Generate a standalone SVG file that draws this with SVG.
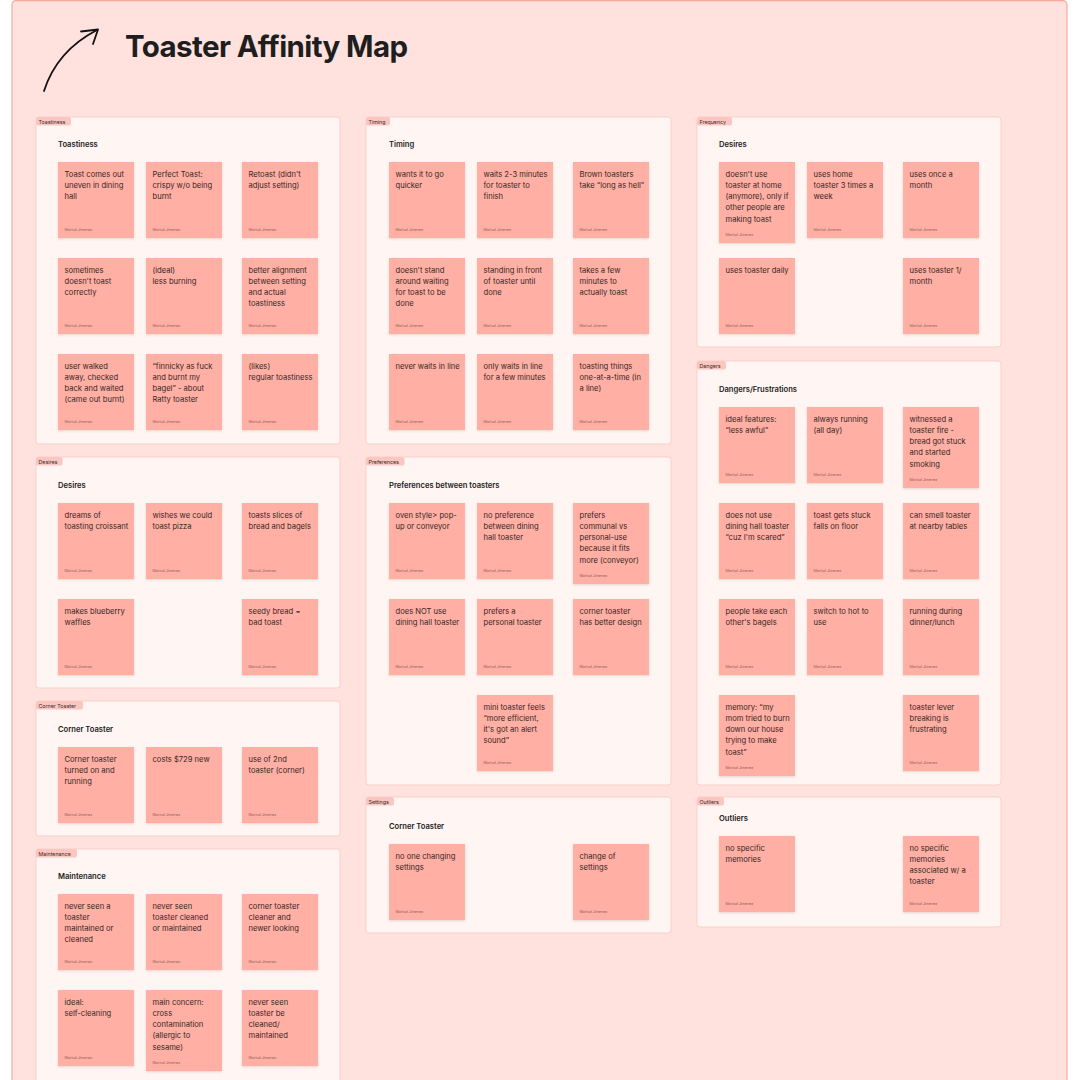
<svg xmlns="http://www.w3.org/2000/svg" width="1080" height="1080" viewBox="0 0 1080 1080">
<defs>
<filter id="sh" x="-10%" y="-10%" width="120%" height="125%"><feDropShadow dx="0" dy="1" stdDeviation="0.8" flood-color="#7a3a30" flood-opacity="0.18"/></filter>
<style>
.frame{fill:#FFE2DE;stroke:#F8A999;stroke-width:1.2}
.sec{fill:#FFF5F3;stroke:#FBCFC8;stroke-width:1}
.tag{fill:#FCC6C0}
.tagt{font-family:Inter,"Noto Sans",sans-serif;font-size:5.3px;fill:#3a2a28}
.st{font-family:Inter,"Noto Sans",sans-serif;font-size:7.6px;font-weight:600;fill:#222}
.s{fill:#FFAFA3;filter:url(#sh)}
.t{font-family:Inter,"Noto Sans",sans-serif;font-size:7.6px;fill:#352826}
.a{font-family:Inter,"Noto Sans",sans-serif;font-size:3.6px;fill:#8c5f58}
.title{font-family:Inter,"Noto Sans",sans-serif;font-size:29.5px;font-weight:700;fill:#1e1e1e;letter-spacing:-0.6px}
.arr{fill:none;stroke:#111;stroke-width:1.8;stroke-linecap:round;stroke-linejoin:round}
</style>
</defs>
<rect width="1080" height="1080" fill="#ffffff"/>
<rect class="frame" x="12" y="0.6" width="1055" height="1100" rx="4"/>
<g id="header">
<text class="title" x="125" y="57">Toaster Affinity Map</text>
</g>
<g id="connectors">
<path class="arr" d="M44,91 C52,66 70,44 97,30"/>
<path class="arr" d="M81,31.5 L98,29.5 L93,44"/>
</g>

<!-- Column 1 -->
<g id="sec-toastiness">
<rect class="sec" x="36" y="117" width="304" height="327" rx="3"/>
<rect class="tag" x="36" y="117" width="35" height="8.5" rx="2"/>
<text class="tagt" x="38.5" y="123.5">Toastiness</text>
<text class="st" x="58" y="147">Toastiness</text>
<g id="n-t1" transform="translate(58,162)"><rect class="s" width="76" height="76"/><text class="t" x="6.5" y="14.5"><tspan x="6.5">Toast comes out</tspan><tspan x="6.5" dy="11.3">uneven in dining</tspan><tspan x="6.5" dy="11.3">hall</tspan></text><text class="a" x="6.5" y="68.5">Marisol Jimenez</text></g>
<g id="n-t2" transform="translate(146,162)"><rect class="s" width="76" height="76"/><text class="t" x="6.5" y="14.5"><tspan x="6.5">Perfect Toast:</tspan><tspan x="6.5" dy="11.3">crispy w/o being</tspan><tspan x="6.5" dy="11.3">burnt</tspan></text><text class="a" x="6.5" y="68.5">Marisol Jimenez</text></g>
<g id="n-t3" transform="translate(242,162)"><rect class="s" width="76" height="76"/><text class="t" x="6.5" y="14.5"><tspan x="6.5">Retoast (didn't</tspan><tspan x="6.5" dy="11.3">adjust setting)</tspan></text><text class="a" x="6.5" y="68.5">Marisol Jimenez</text></g>
<g id="n-t4" transform="translate(58,258)"><rect class="s" width="76" height="76"/><text class="t" x="6.5" y="14.5"><tspan x="6.5">sometimes</tspan><tspan x="6.5" dy="11.3">doesn't toast</tspan><tspan x="6.5" dy="11.3">correctly</tspan></text><text class="a" x="6.5" y="68.5">Marisol Jimenez</text></g>
<g id="n-t5" transform="translate(146,258)"><rect class="s" width="76" height="76"/><text class="t" x="6.5" y="14.5"><tspan x="6.5">(ideal)</tspan><tspan x="6.5" dy="11.3">less burning</tspan></text><text class="a" x="6.5" y="68.5">Marisol Jimenez</text></g>
<g id="n-t6" transform="translate(242,258)"><rect class="s" width="76" height="76"/><text class="t" x="6.5" y="14.5"><tspan x="6.5">better alignment</tspan><tspan x="6.5" dy="11.3">between setting</tspan><tspan x="6.5" dy="11.3">and actual</tspan><tspan x="6.5" dy="11.3">toastiness</tspan></text><text class="a" x="6.5" y="68.5">Marisol Jimenez</text></g>
<g id="n-t7" transform="translate(58,354)"><rect class="s" width="76" height="76"/><text class="t" x="6.5" y="14.5"><tspan x="6.5">user walked</tspan><tspan x="6.5" dy="11.3">away, checked</tspan><tspan x="6.5" dy="11.3">back and waited</tspan><tspan x="6.5" dy="11.3">(came out burnt)</tspan></text><text class="a" x="6.5" y="68.5">Marisol Jimenez</text></g>
<g id="n-t8" transform="translate(146,354)"><rect class="s" width="76" height="76"/><text class="t" x="6.5" y="14.5"><tspan x="6.5">“finnicky as fuck</tspan><tspan x="6.5" dy="11.3">and burnt my</tspan><tspan x="6.5" dy="11.3">bagel” - about</tspan><tspan x="6.5" dy="11.3">Ratty toaster</tspan></text><text class="a" x="6.5" y="68.5">Marisol Jimenez</text></g>
<g id="n-t9" transform="translate(242,354)"><rect class="s" width="76" height="76"/><text class="t" x="6.5" y="14.5"><tspan x="6.5">(likes)</tspan><tspan x="6.5" dy="11.3">regular toastiness</tspan></text><text class="a" x="6.5" y="68.5">Marisol Jimenez</text></g>
</g>

<g id="sec-desires">
<rect class="sec" x="36" y="457" width="304" height="231" rx="3"/>
<rect class="tag" x="36" y="457" width="26.5" height="8.5" rx="2"/>
<text class="tagt" x="38.5" y="463.5">Desires</text>
<text class="st" x="58" y="487.5">Desires</text>
<g id="n-d1" transform="translate(58,503)"><rect class="s" width="76" height="76"/><text class="t" x="6.5" y="14.5"><tspan x="6.5">dreams of</tspan><tspan x="6.5" dy="11.3">toasting croissant</tspan></text><text class="a" x="6.5" y="68.5">Marisol Jimenez</text></g>
<g id="n-d2" transform="translate(146,503)"><rect class="s" width="76" height="76"/><text class="t" x="6.5" y="14.5"><tspan x="6.5">wishes we could</tspan><tspan x="6.5" dy="11.3">toast pizza</tspan></text><text class="a" x="6.5" y="68.5">Marisol Jimenez</text></g>
<g id="n-d3" transform="translate(242,503)"><rect class="s" width="76" height="76"/><text class="t" x="6.5" y="14.5"><tspan x="6.5">toasts slices of</tspan><tspan x="6.5" dy="11.3">bread and bagels</tspan></text><text class="a" x="6.5" y="68.5">Marisol Jimenez</text></g>
<g id="n-d4" transform="translate(58,599)"><rect class="s" width="76" height="76"/><text class="t" x="6.5" y="14.5"><tspan x="6.5">makes blueberry</tspan><tspan x="6.5" dy="11.3">waffles</tspan></text><text class="a" x="6.5" y="68.5">Marisol Jimenez</text></g>
<g id="n-d5" transform="translate(242,599)"><rect class="s" width="76" height="76"/><text class="t" x="6.5" y="14.5"><tspan x="6.5">seedy bread =</tspan><tspan x="6.5" dy="11.3">bad toast</tspan></text><text class="a" x="6.5" y="68.5">Marisol Jimenez</text></g>
</g>

<g id="sec-corner">
<rect class="sec" x="36" y="701" width="304" height="135" rx="3"/>
<rect class="tag" x="36" y="701" width="47" height="8.5" rx="2"/>
<text class="tagt" x="38.5" y="707.5">Corner Toaster</text>
<text class="st" x="58" y="731.5">Corner Toaster</text>
<g id="n-c1" transform="translate(58,747)"><rect class="s" width="76" height="76"/><text class="t" x="6.5" y="14.5"><tspan x="6.5">Corner toaster</tspan><tspan x="6.5" dy="11.3">turned on and</tspan><tspan x="6.5" dy="11.3">running</tspan></text><text class="a" x="6.5" y="68.5">Marisol Jimenez</text></g>
<g id="n-c2" transform="translate(146,747)"><rect class="s" width="76" height="76"/><text class="t" x="6.5" y="14.5"><tspan x="6.5">costs $729 new</tspan></text><text class="a" x="6.5" y="68.5">Marisol Jimenez</text></g>
<g id="n-c3" transform="translate(242,747)"><rect class="s" width="76" height="76"/><text class="t" x="6.5" y="14.5"><tspan x="6.5">use of 2nd</tspan><tspan x="6.5" dy="11.3">toaster (corner)</tspan></text><text class="a" x="6.5" y="68.5">Marisol Jimenez</text></g>
</g>

<g id="sec-maintenance">
<rect class="sec" x="36" y="849" width="304" height="260" rx="3"/>
<rect class="tag" x="36" y="849" width="41" height="8.5" rx="2"/>
<text class="tagt" x="38.5" y="855.5">Maintenance</text>
<text class="st" x="58" y="878.5">Maintenance</text>
<g id="n-m1" transform="translate(58,894)"><rect class="s" width="76" height="76"/><text class="t" x="6.5" y="14.5"><tspan x="6.5">never seen a</tspan><tspan x="6.5" dy="11.3">toaster</tspan><tspan x="6.5" dy="11.3">maintained or</tspan><tspan x="6.5" dy="11.3">cleaned</tspan></text><text class="a" x="6.5" y="68.5">Marisol Jimenez</text></g>
<g id="n-m2" transform="translate(146,894)"><rect class="s" width="76" height="76"/><text class="t" x="6.5" y="14.5"><tspan x="6.5">never seen</tspan><tspan x="6.5" dy="11.3">toaster cleaned</tspan><tspan x="6.5" dy="11.3">or maintained</tspan></text><text class="a" x="6.5" y="68.5">Marisol Jimenez</text></g>
<g id="n-m3" transform="translate(242,894)"><rect class="s" width="76" height="76"/><text class="t" x="6.5" y="14.5"><tspan x="6.5">corner toaster</tspan><tspan x="6.5" dy="11.3">cleaner and</tspan><tspan x="6.5" dy="11.3">newer looking</tspan></text><text class="a" x="6.5" y="68.5">Marisol Jimenez</text></g>
<g id="n-m4" transform="translate(58,990)"><rect class="s" width="76" height="76"/><text class="t" x="6.5" y="14.5"><tspan x="6.5">ideal:</tspan><tspan x="6.5" dy="11.3">self-cleaning</tspan></text><text class="a" x="6.5" y="68.5">Marisol Jimenez</text></g>
<g id="n-m5" transform="translate(146,990)"><rect class="s" width="76" height="81"/><text class="t" x="6.5" y="14.5"><tspan x="6.5">main concern:</tspan><tspan x="6.5" dy="11.3">cross</tspan><tspan x="6.5" dy="11.3">contamination</tspan><tspan x="6.5" dy="11.3">(allergic to</tspan><tspan x="6.5" dy="11.3">sesame)</tspan></text><text class="a" x="6.5" y="73.5">Marisol Jimenez</text></g>
<g id="n-m6" transform="translate(242,990)"><rect class="s" width="76" height="76"/><text class="t" x="6.5" y="14.5"><tspan x="6.5">never seen</tspan><tspan x="6.5" dy="11.3">toaster be</tspan><tspan x="6.5" dy="11.3">cleaned/</tspan><tspan x="6.5" dy="11.3">maintained</tspan></text><text class="a" x="6.5" y="68.5">Marisol Jimenez</text></g>
</g>

<!-- Column 2 -->
<g id="sec-timing">
<rect class="sec" x="366" y="117" width="305" height="327" rx="3"/>
<rect class="tag" x="366" y="117" width="24" height="8.5" rx="2"/>
<text class="tagt" x="368.5" y="123.5">Timing</text>
<text class="st" x="389" y="147">Timing</text>
<g id="n-ti1" transform="translate(389,162)"><rect class="s" width="76" height="76"/><text class="t" x="6.5" y="14.5"><tspan x="6.5">wants it to go</tspan><tspan x="6.5" dy="11.3">quicker</tspan></text><text class="a" x="6.5" y="68.5">Marisol Jimenez</text></g>
<g id="n-ti2" transform="translate(477,162)"><rect class="s" width="76" height="76"/><text class="t" x="6.5" y="14.5"><tspan x="6.5">waits 2-3 minutes</tspan><tspan x="6.5" dy="11.3">for toaster to</tspan><tspan x="6.5" dy="11.3">finish</tspan></text><text class="a" x="6.5" y="68.5">Marisol Jimenez</text></g>
<g id="n-ti3" transform="translate(573,162)"><rect class="s" width="76" height="76"/><text class="t" x="6.5" y="14.5"><tspan x="6.5">Brown toasters</tspan><tspan x="6.5" dy="11.3">take “long as hell”</tspan></text><text class="a" x="6.5" y="68.5">Marisol Jimenez</text></g>
<g id="n-ti4" transform="translate(389,258)"><rect class="s" width="76" height="76"/><text class="t" x="6.5" y="14.5"><tspan x="6.5">doesn't stand</tspan><tspan x="6.5" dy="11.3">around waiting</tspan><tspan x="6.5" dy="11.3">for toast to be</tspan><tspan x="6.5" dy="11.3">done</tspan></text><text class="a" x="6.5" y="68.5">Marisol Jimenez</text></g>
<g id="n-ti5" transform="translate(477,258)"><rect class="s" width="76" height="76"/><text class="t" x="6.5" y="14.5"><tspan x="6.5">standing in front</tspan><tspan x="6.5" dy="11.3">of toaster until</tspan><tspan x="6.5" dy="11.3">done</tspan></text><text class="a" x="6.5" y="68.5">Marisol Jimenez</text></g>
<g id="n-ti6" transform="translate(573,258)"><rect class="s" width="76" height="76"/><text class="t" x="6.5" y="14.5"><tspan x="6.5">takes a few</tspan><tspan x="6.5" dy="11.3">minutes to</tspan><tspan x="6.5" dy="11.3">actually toast</tspan></text><text class="a" x="6.5" y="68.5">Marisol Jimenez</text></g>
<g id="n-ti7" transform="translate(389,354)"><rect class="s" width="76" height="76"/><text class="t" x="6.5" y="14.5"><tspan x="6.5">never waits in line</tspan></text><text class="a" x="6.5" y="68.5">Marisol Jimenez</text></g>
<g id="n-ti8" transform="translate(477,354)"><rect class="s" width="76" height="76"/><text class="t" x="6.5" y="14.5"><tspan x="6.5">only waits in line</tspan><tspan x="6.5" dy="11.3">for a few minutes</tspan></text><text class="a" x="6.5" y="68.5">Marisol Jimenez</text></g>
<g id="n-ti9" transform="translate(573,354)"><rect class="s" width="76" height="76"/><text class="t" x="6.5" y="14.5"><tspan x="6.5">toasting things</tspan><tspan x="6.5" dy="11.3">one-at-a-time (in</tspan><tspan x="6.5" dy="11.3">a line)</tspan></text><text class="a" x="6.5" y="68.5">Marisol Jimenez</text></g>
</g>

<g id="sec-preferences">
<rect class="sec" x="366" y="457" width="305" height="328" rx="3"/>
<rect class="tag" x="366" y="457" width="38.5" height="8.5" rx="2"/>
<text class="tagt" x="368.5" y="463.5">Preferences</text>
<text class="st" x="389" y="487.5">Preferences between toasters</text>
<g id="n-p1" transform="translate(389,503)"><rect class="s" width="76" height="76"/><text class="t" x="6.5" y="14.5"><tspan x="6.5">oven style&gt; pop-</tspan><tspan x="6.5" dy="11.3">up or conveyor</tspan></text><text class="a" x="6.5" y="68.5">Marisol Jimenez</text></g>
<g id="n-p2" transform="translate(477,503)"><rect class="s" width="76" height="76"/><text class="t" x="6.5" y="14.5"><tspan x="6.5">no preference</tspan><tspan x="6.5" dy="11.3">between dining</tspan><tspan x="6.5" dy="11.3">hall toaster</tspan></text><text class="a" x="6.5" y="68.5">Marisol Jimenez</text></g>
<g id="n-p3" transform="translate(573,503)"><rect class="s" width="76" height="81"/><text class="t" x="6.5" y="14.5"><tspan x="6.5">prefers</tspan><tspan x="6.5" dy="11.3">communal vs</tspan><tspan x="6.5" dy="11.3">personal-use</tspan><tspan x="6.5" dy="11.3">because it fits</tspan><tspan x="6.5" dy="11.3">more (conveyor)</tspan></text><text class="a" x="6.5" y="73.5">Marisol Jimenez</text></g>
<g id="n-p4" transform="translate(389,599)"><rect class="s" width="76" height="76"/><text class="t" x="6.5" y="14.5"><tspan x="6.5">does NOT use</tspan><tspan x="6.5" dy="11.3">dining hall toaster</tspan></text><text class="a" x="6.5" y="68.5">Marisol Jimenez</text></g>
<g id="n-p5" transform="translate(477,599)"><rect class="s" width="76" height="76"/><text class="t" x="6.5" y="14.5"><tspan x="6.5">prefers a</tspan><tspan x="6.5" dy="11.3">personal toaster</tspan></text><text class="a" x="6.5" y="68.5">Marisol Jimenez</text></g>
<g id="n-p6" transform="translate(573,599)"><rect class="s" width="76" height="76"/><text class="t" x="6.5" y="14.5"><tspan x="6.5">corner toaster</tspan><tspan x="6.5" dy="11.3">has better design</tspan></text><text class="a" x="6.5" y="68.5">Marisol Jimenez</text></g>
<g id="n-p7" transform="translate(477,695)"><rect class="s" width="76" height="76"/><text class="t" x="6.5" y="14.5"><tspan x="6.5">mini toaster feels</tspan><tspan x="6.5" dy="11.3">“more efficient,</tspan><tspan x="6.5" dy="11.3">it's got an alert</tspan><tspan x="6.5" dy="11.3">sound”</tspan></text><text class="a" x="6.5" y="68.5">Marisol Jimenez</text></g>
</g>

<g id="sec-settings">
<rect class="sec" x="366" y="797" width="305" height="136" rx="3"/>
<rect class="tag" x="366" y="797" width="28" height="8.5" rx="2"/>
<text class="tagt" x="368.5" y="803.5">Settings</text>
<text class="st" x="389" y="828.5">Corner Toaster</text>
<g id="n-se1" transform="translate(389,844)"><rect class="s" width="76" height="76"/><text class="t" x="6.5" y="14.5"><tspan x="6.5">no one changing</tspan><tspan x="6.5" dy="11.3">settings</tspan></text><text class="a" x="6.5" y="68.5">Marisol Jimenez</text></g>
<g id="n-se2" transform="translate(573,844)"><rect class="s" width="76" height="76"/><text class="t" x="6.5" y="14.5"><tspan x="6.5">change of</tspan><tspan x="6.5" dy="11.3">settings</tspan></text><text class="a" x="6.5" y="68.5">Marisol Jimenez</text></g>
</g>

<!-- Column 3 -->
<g id="sec-frequency">
<rect class="sec" x="697" y="117" width="304" height="230" rx="3"/>
<rect class="tag" x="697" y="117" width="35" height="8.5" rx="2"/>
<text class="tagt" x="699.5" y="123.5">Frequency</text>
<text class="st" x="719" y="147">Desires</text>
<g id="n-f1" transform="translate(719,162)"><rect class="s" width="76" height="81"/><text class="t" x="6.5" y="14.5"><tspan x="6.5">doesn't use</tspan><tspan x="6.5" dy="11.3">toaster at home</tspan><tspan x="6.5" dy="11.3">(anymore), only if</tspan><tspan x="6.5" dy="11.3">other people are</tspan><tspan x="6.5" dy="11.3">making toast</tspan></text><text class="a" x="6.5" y="73.5">Marisol Jimenez</text></g>
<g id="n-f2" transform="translate(807,162)"><rect class="s" width="76" height="76"/><text class="t" x="6.5" y="14.5"><tspan x="6.5">uses home</tspan><tspan x="6.5" dy="11.3">toaster 3 times a</tspan><tspan x="6.5" dy="11.3">week</tspan></text><text class="a" x="6.5" y="68.5">Marisol Jimenez</text></g>
<g id="n-f3" transform="translate(903,162)"><rect class="s" width="76" height="76"/><text class="t" x="6.5" y="14.5"><tspan x="6.5">uses once a</tspan><tspan x="6.5" dy="11.3">month</tspan></text><text class="a" x="6.5" y="68.5">Marisol Jimenez</text></g>
<g id="n-f4" transform="translate(719,258)"><rect class="s" width="76" height="76"/><text class="t" x="6.5" y="14.5"><tspan x="6.5">uses toaster daily</tspan></text><text class="a" x="6.5" y="68.5">Marisol Jimenez</text></g>
<g id="n-f5" transform="translate(903,258)"><rect class="s" width="76" height="76"/><text class="t" x="6.5" y="14.5"><tspan x="6.5">uses toaster 1/</tspan><tspan x="6.5" dy="11.3">month</tspan></text><text class="a" x="6.5" y="68.5">Marisol Jimenez</text></g>
</g>

<g id="sec-dangers">
<rect class="sec" x="697" y="361" width="304" height="424" rx="3"/>
<rect class="tag" x="697" y="361" width="29" height="8.5" rx="2"/>
<text class="tagt" x="699.5" y="367.5">Dangers</text>
<text class="st" x="719" y="392">Dangers/Frustrations</text>
<g id="n-g1" transform="translate(719,407)"><rect class="s" width="76" height="76"/><text class="t" x="6.5" y="14.5"><tspan x="6.5">ideal features:</tspan><tspan x="6.5" dy="11.3">“less awful”</tspan></text><text class="a" x="6.5" y="68.5">Marisol Jimenez</text></g>
<g id="n-g2" transform="translate(807,407)"><rect class="s" width="76" height="76"/><text class="t" x="6.5" y="14.5"><tspan x="6.5">always running</tspan><tspan x="6.5" dy="11.3">(all day)</tspan></text><text class="a" x="6.5" y="68.5">Marisol Jimenez</text></g>
<g id="n-g3" transform="translate(903,407)"><rect class="s" width="76" height="81"/><text class="t" x="6.5" y="14.5"><tspan x="6.5">witnessed a</tspan><tspan x="6.5" dy="11.3">toaster fire -</tspan><tspan x="6.5" dy="11.3">bread got stuck</tspan><tspan x="6.5" dy="11.3">and started</tspan><tspan x="6.5" dy="11.3">smoking</tspan></text><text class="a" x="6.5" y="73.5">Marisol Jimenez</text></g>
<g id="n-g4" transform="translate(719,503)"><rect class="s" width="76" height="76"/><text class="t" x="6.5" y="14.5"><tspan x="6.5">does not use</tspan><tspan x="6.5" dy="11.3">dining hall toaster</tspan><tspan x="6.5" dy="11.3">“cuz I'm scared”</tspan></text><text class="a" x="6.5" y="68.5">Marisol Jimenez</text></g>
<g id="n-g5" transform="translate(807,503)"><rect class="s" width="76" height="76"/><text class="t" x="6.5" y="14.5"><tspan x="6.5">toast gets stuck</tspan><tspan x="6.5" dy="11.3">falls on floor</tspan></text><text class="a" x="6.5" y="68.5">Marisol Jimenez</text></g>
<g id="n-g6" transform="translate(903,503)"><rect class="s" width="76" height="76"/><text class="t" x="6.5" y="14.5"><tspan x="6.5">can smell toaster</tspan><tspan x="6.5" dy="11.3">at nearby tables</tspan></text><text class="a" x="6.5" y="68.5">Marisol Jimenez</text></g>
<g id="n-g7" transform="translate(719,599)"><rect class="s" width="76" height="76"/><text class="t" x="6.5" y="14.5"><tspan x="6.5">people take each</tspan><tspan x="6.5" dy="11.3">other's bagels</tspan></text><text class="a" x="6.5" y="68.5">Marisol Jimenez</text></g>
<g id="n-g8" transform="translate(807,599)"><rect class="s" width="76" height="76"/><text class="t" x="6.5" y="14.5"><tspan x="6.5">switch to hot to</tspan><tspan x="6.5" dy="11.3">use</tspan></text><text class="a" x="6.5" y="68.5">Marisol Jimenez</text></g>
<g id="n-g9" transform="translate(903,599)"><rect class="s" width="76" height="76"/><text class="t" x="6.5" y="14.5"><tspan x="6.5">running during</tspan><tspan x="6.5" dy="11.3">dinner/lunch</tspan></text><text class="a" x="6.5" y="68.5">Marisol Jimenez</text></g>
<g id="n-g10" transform="translate(719,695)"><rect class="s" width="76" height="81"/><text class="t" x="6.5" y="14.5"><tspan x="6.5">memory: “my</tspan><tspan x="6.5" dy="11.3">mom tried to burn</tspan><tspan x="6.5" dy="11.3">down our house</tspan><tspan x="6.5" dy="11.3">trying to make</tspan><tspan x="6.5" dy="11.3">toast”</tspan></text><text class="a" x="6.5" y="73.5">Marisol Jimenez</text></g>
<g id="n-g11" transform="translate(903,695)"><rect class="s" width="76" height="76"/><text class="t" x="6.5" y="14.5"><tspan x="6.5">toaster lever</tspan><tspan x="6.5" dy="11.3">breaking is</tspan><tspan x="6.5" dy="11.3">frustrating</tspan></text><text class="a" x="6.5" y="68.5">Marisol Jimenez</text></g>
</g>

<g id="sec-outliers">
<rect class="sec" x="697" y="797" width="304" height="130" rx="3"/>
<rect class="tag" x="697" y="797" width="27" height="8.5" rx="2"/>
<text class="tagt" x="699.5" y="803.5">Outliers</text>
<text class="st" x="719" y="821">Outliers</text>
<g id="n-o1" transform="translate(719,836)"><rect class="s" width="76" height="76"/><text class="t" x="6.5" y="14.5"><tspan x="6.5">no specific</tspan><tspan x="6.5" dy="11.3">memories</tspan></text><text class="a" x="6.5" y="68.5">Marisol Jimenez</text></g>
<g id="n-o2" transform="translate(903,836)"><rect class="s" width="76" height="76"/><text class="t" x="6.5" y="14.5"><tspan x="6.5">no specific</tspan><tspan x="6.5" dy="11.3">memories</tspan><tspan x="6.5" dy="11.3">associated w/ a</tspan><tspan x="6.5" dy="11.3">toaster</tspan></text><text class="a" x="6.5" y="68.5">Marisol Jimenez</text></g>
</g>
</svg>
